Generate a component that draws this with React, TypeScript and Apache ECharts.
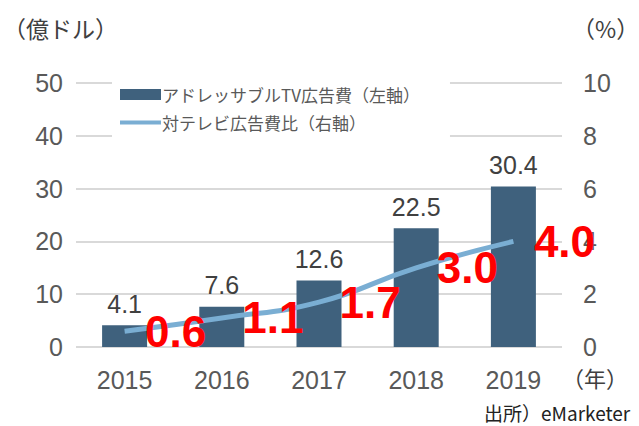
import React, { useEffect, useRef } from "react";
import * as echarts from "echarts";

const years = ["2015", "2016", "2017", "2018", "2019"];
const adSpend = [4.1, 7.6, 12.6, 22.5, 30.4];
const shareOfTv = [0.6, 1.1, 1.7, 3.0, 4.0];
const barName = "アドレッサブルTV広告費（左軸）";
const lineName = "対テレビ広告費比（右軸）";

const NUM_FONT = "'Liberation Sans', Arial, sans-serif";
const JP_FONT = "'Noto Sans CJK JP', sans-serif";

export default function App() {
  const ref = useRef<HTMLDivElement>(null);
  useEffect(() => {
    if (!ref.current) return;
    const chart = echarts.init(ref.current, undefined, { renderer: "svg" });
    chart.setOption({
      animation: false,
      backgroundColor: "#ffffff",
      grid: { left: 76, right: 77, top: 83, bottom: 79, containLabel: false },
      legend: {
        orient: "vertical",
        left: 112,
        top: 80,
        padding: [6, 30, 6, 8],
        backgroundColor: "#ffffff",
        itemWidth: 41,
        itemHeight: 11,
        itemGap: 11,
        textStyle: { fontFamily: JP_FONT, fontSize: 17, color: "#595959", padding: [0, 0, 0, -4] },
        data: [
          { name: barName, icon: "rect" },
          {
            name: lineName,
            icon: "path://M0,0L0.01,0ZM0,3.5L41,3.5L41,7.5L0,7.5ZM0,11L0.01,11Z",
            itemStyle: { color: "#7aaed3" },
          },
        ],
      },
      xAxis: {
        type: "category",
        data: years,
        axisLine: { show: false },
        axisTick: { show: false },
        axisLabel: { fontFamily: NUM_FONT, fontSize: 25, color: "#595959", margin: 20 },
      },
      yAxis: [
        {
          type: "value",
          min: 0,
          max: 50,
          interval: 10,
          axisLine: { show: false },
          axisTick: { show: false },
          axisLabel: { fontFamily: NUM_FONT, fontSize: 25, color: "#595959", margin: 13 },
          splitLine: { lineStyle: { color: "#d9d9d9", width: 2 } },
        },
        {
          type: "value",
          min: 0,
          max: 10,
          interval: 2,
          axisLine: { show: false },
          axisTick: { show: false },
          axisLabel: { fontFamily: NUM_FONT, fontSize: 25, color: "#595959", margin: 21 },
          splitLine: { show: false },
        },
      ],
      series: [
        {
          name: barName,
          type: "bar",
          data: adSpend,
          barWidth: 45,
          itemStyle: { color: "#3f617d" },
          label: {
            show: true,
            position: "top",
            distance: 9,
            fontFamily: NUM_FONT,
            fontSize: 25,
            color: "#404040",
            formatter: (p: any) => Number(p.value).toFixed(1),
          },
        },
        {
          name: lineName,
          type: "line",
          yAxisIndex: 1,
          data: shareOfTv,
          smooth: true,
          symbol: "circle",
          symbolSize: 1,
          showSymbol: true,
          lineStyle: { color: "#7aaed3", width: 5 },
          itemStyle: { color: "rgba(0,0,0,0)" },
          z: 3,
          label: {
            show: true,
            position: "right",
            distance: 20,
            fontFamily: NUM_FONT,
            fontSize: 44,
            fontWeight: "bold",
            color: "#ff0000",
            formatter: (p: any) => Number(p.value).toFixed(1),
          },
        },
      ],
      graphic: [
        {
          type: "text",
          left: 3,
          top: 16,
          style: { text: "（億ドル）", font: `23px ${JP_FONT}`, fill: "#404040" },
        },
        {
          type: "text",
          left: 572,
          top: 16,
          style: { text: "（%）", font: `23px ${JP_FONT}`, fill: "#404040" },
        },
        {
          type: "text",
          left: 562,
          top: 366,
          style: { text: "（年）", font: `22px ${JP_FONT}`, fill: "#404040" },
        },
        {
          type: "text",
          left: 484,
          top: 403,
          style: { text: "出所）eMarketer", font: `19px ${JP_FONT}`, fill: "#222222" },
        },
      ],
    });
    return () => chart.dispose();
  }, []);
  return (
    <div
      ref={ref}
      style={{ position: "fixed", left: 0, top: 0, width: 639, height: 426 }}
    />
  );
}
